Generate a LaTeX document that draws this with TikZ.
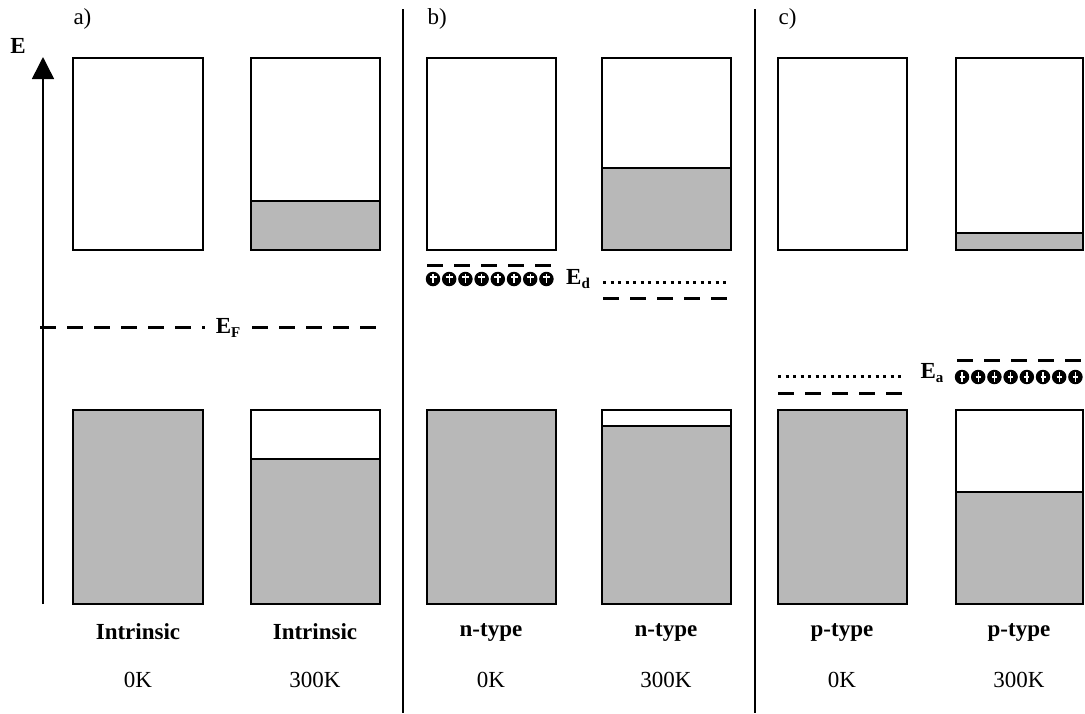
\documentclass[tikz,border=0pt]{standalone}
\usepackage{fontspec}
\setmainfont{Liberation Serif}
\usetikzlibrary{arrows.meta}
\definecolor{bandgray}{gray}{0.72}
\newcommand{\sbs}[1]{\raisebox{-0.45ex}{\fontsize{15}{15}\selectfont #1}}
\begin{document}
\begin{tikzpicture}[x=1pt,y=-1pt,
  box/.style={draw=black,line width=1.8pt},
  band/.style={fill=bandgray},
  lvl/.style={line width=3pt,dash pattern=on 16pt off 11pt},
  dotlvl/.style={line width=3pt,dash pattern=on 3pt off 4.5pt},
  sep/.style={line width=2.8pt},
  lab/.style={font=\fontsize{23}{26}\selectfont\bfseries},
  temp/.style={font=\fontsize{23}{26}\selectfont},
  ion/.style={circle,fill=black,minimum size=14.5pt,inner sep=0pt}]
\useasboundingbox (0,0) rectangle (1085,713);
% separators
\coordinate (s1t) at (403,9); \coordinate (s1b) at (403,713);
\coordinate (s2t) at (755,9); \coordinate (s2b) at (755,713);
\draw[sep] (s1t) -- (s1b);
\draw[sep] (s2t) -- (s2b);
% panel labels
\node[temp,anchor=west] (la) at (70,19) {a)};
\node[temp,anchor=west] (lb) at (424,19) {b)};
\node[temp,anchor=west] (lc) at (775,19) {c)};
% energy axis
\coordinate (ax0) at (43,604);
\coordinate (ax1) at (43,57);
\draw[line width=1.5pt,-{Triangle[width=22pt,length=22pt]}] (ax0) -- (ax1);
\node[lab] (E) at (18,46) {E};
% box 1
\draw[box] (73,58) rectangle (203,250);
\draw[box,band] (73,410) rectangle (203,604);
% box 2
\fill[bandgray] (251,201) rectangle (380,250);
\draw[box] (251,58) rectangle (380,250);
\draw[box] (251,201) -- (380,201);
\fill[bandgray] (251,459) rectangle (380,604);
\draw[box] (251,410) rectangle (380,604);
\draw[box] (251,459) -- (380,459);
% box 3
\draw[box] (427,58) rectangle (556,250);
\draw[box,band] (427,410) rectangle (556,604);
% box 4
\fill[bandgray] (602,168) rectangle (731,250);
\draw[box] (602,58) rectangle (731,250);
\draw[box] (602,168) -- (731,168);
\fill[bandgray] (602,426) rectangle (731,604);
\draw[box] (602,410) rectangle (731,604);
\draw[box] (602,426) -- (731,426);
% box 5
\draw[box] (778,58) rectangle (907,250);
\draw[box,band] (778,410) rectangle (907,604);
% box 6
\fill[bandgray] (956,233) rectangle (1083,250);
\draw[box] (956,58) rectangle (1083,250);
\draw[box] (956,233) -- (1083,233);
\fill[bandgray] (956,492) rectangle (1083,604);
\draw[box] (956,410) rectangle (1083,604);
\draw[box] (956,492) -- (1083,492);
% Fermi level
\node[lab] (EF) at (228,328) {E\sbs{F}};
\coordinate (efl) at (40,327); \coordinate (efr) at (380,327);
\coordinate (efa) at (205,327); \coordinate (efb) at (252,327);
\draw[lvl] (efl) -- (efa);
\draw[lvl] (efb) -- (efr);
% donor levels
\coordinate (d0a) at (427,265); \coordinate (d0b) at (556,265);
\draw[lvl] (d0a) -- (d0b);
\foreach \k in {0,...,7} {
  \node[ion] (d\k) at (433+16.2*\k,279) {};
  \draw[white,line width=1.4pt] (433+16.2*\k-3.5,277) -- (433+16.2*\k+3.5,277);
  \draw[white,line width=1.4pt] (433+16.2*\k,273.5) -- (433+16.2*\k,283);
}
\node[lab] (Ed) at (578,279) {E\sbs{d}};
\coordinate (d1a) at (603,282); \coordinate (d1b) at (730,282);
\draw[dotlvl] (d1a) -- (d1b);
\coordinate (d2a) at (603,298); \coordinate (d2b) at (731,298);
\draw[lvl] (d2a) -- (d2b);
% acceptor levels
\coordinate (a1a) at (778,376); \coordinate (a1b) at (905,376);
\draw[dotlvl] (a1a) -- (a1b);
\coordinate (a2a) at (778,393); \coordinate (a2b) at (907,393);
\draw[lvl] (a2a) -- (a2b);
\node[lab] (Ea) at (932,373) {E\sbs{a}};
\coordinate (a0a) at (957,360); \coordinate (a0b) at (1085,360);
\draw[lvl] (a0a) -- (a0b);
\foreach \k in {0,...,7} {
  \node[ion] (ac\k) at (962+16.2*\k,377) {};
  \draw[white,line width=1.4pt] (962+16.2*\k,372) -- (962+16.2*\k,382);
  \draw[white,line width=1.2pt] (962+16.2*\k-2.5,377) -- (962+16.2*\k+2.5,377);
}
% bottom labels
\node[lab] (t1) at (138,632) {Intrinsic};
\node[lab] (t2) at (315,632) {Intrinsic};
\node[lab] (t3) at (491,632) {n-type};
\node[lab] (t4) at (666,632) {n-type};
\node[lab] (t5) at (842,632) {p-type};
\node[lab] (t6) at (1019,632) {p-type};
\node[temp] (k1) at (138,680) {0K};
\node[temp] (k2) at (315,680) {300K};
\node[temp] (k3) at (491,680) {0K};
\node[temp] (k4) at (666,680) {300K};
\node[temp] (k5) at (842,680) {0K};
\node[temp] (k6) at (1019,680) {300K};
\end{tikzpicture}
\end{document}
